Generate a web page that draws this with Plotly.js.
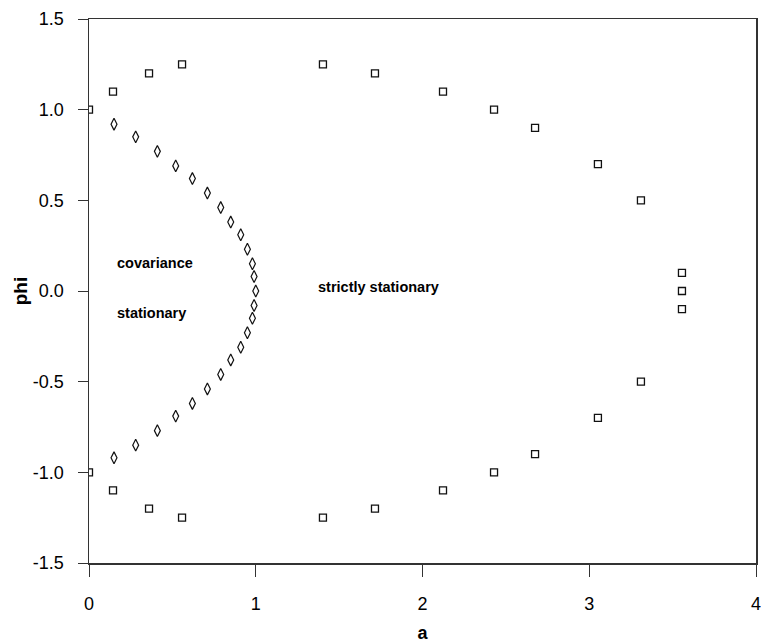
<!DOCTYPE html>
<html>
<head>
<meta charset="utf-8">
<script src="https://cdn.plot.ly/plotly-3.0.1.min.js"></script>
<style>html,body{margin:0;padding:0;background:#fff;}#chart{width:761px;height:644px;}</style>
</head>
<body>
<div id="chart"></div>
<script>
// Strict stationarity boundary (open squares)
const strictA = [0, 0.144, 0.36, 0.558, 1.403, 1.715, 2.123, 2.429, 2.675, 3.052, 3.31, 3.556, 3.556, 3.556,
                 3.31, 3.052, 2.675, 2.429, 2.123, 1.715, 1.403, 0.558, 0.36, 0.144, 0];
const strictPhi = [1.0, 1.1, 1.2, 1.25, 1.25, 1.2, 1.1, 1.0, 0.9, 0.7, 0.5, 0.1, 0.0, -0.1,
                   -0.5, -0.7, -0.9, -1.0, -1.1, -1.2, -1.25, -1.25, -1.2, -1.1, -1.0];
// Covariance stationarity boundary (open diamonds)
const covA = [0.15, 0.28, 0.41, 0.52, 0.62, 0.71, 0.79, 0.85, 0.91, 0.95, 0.98, 0.99, 1.0,
              0.99, 0.98, 0.95, 0.91, 0.85, 0.79, 0.71, 0.62, 0.52, 0.41, 0.28, 0.15];
const covPhi = [0.92, 0.85, 0.77, 0.69, 0.62, 0.54, 0.46, 0.38, 0.31, 0.23, 0.15, 0.08, 0.0,
                -0.08, -0.15, -0.23, -0.31, -0.38, -0.46, -0.54, -0.62, -0.69, -0.77, -0.85, -0.92];
const yTicks = [-1.5, -1.0, -0.5, 0.0, 0.5, 1.0, 1.5];
const yTickText = ["-1.5", "-1.0", "-0.5", "0.0", "0.5", "1.0", "1.5"];
const xTicks = [0, 1, 2, 3, 4];
const regionLabels = ["covariance", "stationary", "strictly stationary"];
const regionA = [0.156, 0.156, 1.36];
const regionPhi = [0.154, -0.121, 0.02];

const FONT = "Liberation Sans, Arial, sans-serif";

const traces = [
  {
    x: strictA, y: strictPhi, mode: "markers", type: "scatter",
    marker: {symbol: "square-open", size: 7, color: "#111", line: {width: 1.3, color: "#111"}},
    hoverinfo: "x+y"
  },
  {
    x: covA, y: covPhi, mode: "markers", type: "scatter",
    marker: {symbol: "diamond-tall-open", size: 8.5, color: "#111", line: {width: 1.2, color: "#111"}},
    hoverinfo: "x+y"
  }
];

const annotations = regionLabels.map((t, i) => ({
  x: regionA[i], y: regionPhi[i], xref: "x", yref: "y", text: t, showarrow: false,
  xanchor: "left", yanchor: "middle",
  font: {family: FONT, size: 14.5, color: "#000", weight: "bold"}
}));

const layout = {
  width: 761, height: 644,
  margin: {l: 89, r: 5, t: 19, b: 81},
  paper_bgcolor: "#fff", plot_bgcolor: "#fff",
  showlegend: false,
  font: {family: FONT, color: "#000"},
  xaxis: {
    range: [0, 4], tickvals: xTicks, ticktext: xTicks.map(String),
    showgrid: false, zeroline: false, showline: true, mirror: true,
    linecolor: "#333", linewidth: 1.5,
    ticks: "outside", ticklen: 12, tickcolor: "#333", tickwidth: 1,
    ticklabelstandoff: 12, ticklabeloverflow: "allow",
    tickfont: {family: FONT, size: 18, color: "#000"},
    title: {text: "<b>a</b>", font: {family: FONT, size: 18, color: "#000"}, standoff: 13},
    fixedrange: true
  },
  yaxis: {
    range: [-1.5, 1.5], tickvals: yTicks, ticktext: yTickText,
    showgrid: false, zeroline: false, showline: true, mirror: true,
    linecolor: "#333", linewidth: 1.5,
    ticks: "outside", ticklen: 10, tickcolor: "#333", tickwidth: 1,
    ticklabelstandoff: 10,
    tickfont: {family: FONT, size: 18, color: "#000"},
    title: {text: "<b>phi</b>", font: {family: FONT, size: 19, color: "#000"}, standoff: 0},
    fixedrange: true
  },
  annotations: annotations
};

Plotly.newPlot("chart", traces, layout, {displayModeBar: false, staticPlot: true});
</script>
</body>
</html>
